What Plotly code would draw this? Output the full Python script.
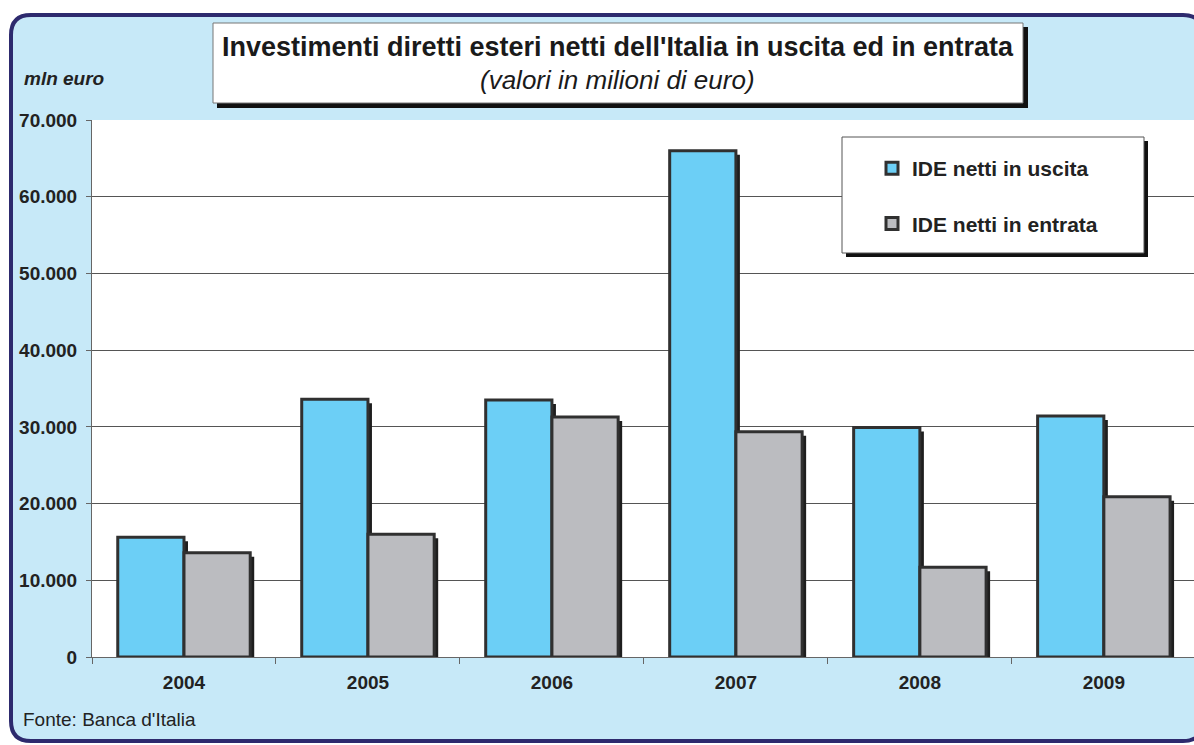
import plotly.graph_objects as go

# ---------------- data ----------------
years = ["2004", "2005", "2006", "2007", "2008", "2009"]
ide_uscita = [15600, 33600, 33500, 66000, 29900, 31400]
ide_entrata = [13600, 16000, 31300, 29350, 11700, 20900]
name_uscita = "IDE netti in uscita"
name_entrata = "IDE netti in entrata"
y_tickvals = [0, 10000, 20000, 30000, 40000, 50000, 60000, 70000]
y_ticktext = ["0", "10.000", "20.000", "30.000", "40.000", "50.000", "60.000", "70.000"]
title_main = "Investimenti diretti esteri netti dell'Italia in uscita ed in entrata"
title_sub = "(valori in milioni di euro)"
unit_label = "mln euro"
source_label = "Fonte: Banca d'Italia"

# ---------------- geometry / style ----------------
W, H = 1194, 745
L, R, T, B = 92, 0, 120, 88
PW, PH = W - L - R, H - T - B
FONT = "Liberation Sans, Arial, sans-serif"
BLUE = "#6CCFF6"
GREY = "#BBBCC0"
EDGE = "#303030"
SHADOW = "#1E1E1E"
BG = "#C7E9F8"
NAVY = "#2D2A6E"

def px(x):
    return (x - L) / PW

def py(y):
    return (H - B - y) / PH

X_RANGE = [-0.5, 5.49]
cat_px = PW / (X_RANGE[1] - X_RANGE[0])
Y_RANGE = [0, 70000]
val_px = (Y_RANGE[1] - Y_RANGE[0]) / PH
SH = 4  # shadow offset in pixels
dx = SH / cat_px
dy = SH * val_px

fig = go.Figure()

# shadows (base axes, hidden)
for vals in (ide_uscita, ide_entrata):
    fig.add_trace(go.Bar(x=years, y=vals, xaxis="x", yaxis="y",
                         marker=dict(color=SHADOW, line=dict(width=0)),
                         showlegend=False, hoverinfo="skip"))

# main bars (overlay axes, visible)
fig.add_trace(go.Bar(x=years, y=ide_uscita, name=name_uscita, xaxis="x2", yaxis="y2",
                     legendgroup="a",
                     marker=dict(color=BLUE, line=dict(color=EDGE, width=3))))
fig.add_trace(go.Bar(x=years, y=ide_entrata, name=name_entrata, xaxis="x2", yaxis="y2",
                     legendgroup="b",
                     marker=dict(color=GREY, line=dict(color=EDGE, width=3))))

def rounded_path(x0, y0, x1, y1, r):
    def P(x, y):
        return f"{px(x):.5f},{py(y):.5f}"
    return (f"M {P(x0 + r, y0)} L {P(x1 - r, y0)} Q {P(x1, y0)} {P(x1, y0 + r)} "
            f"L {P(x1, y1 - r)} Q {P(x1, y1)} {P(x1 - r, y1)} "
            f"L {P(x0 + r, y1)} Q {P(x0, y1)} {P(x0, y1 - r)} "
            f"L {P(x0, y0 + r)} Q {P(x0, y0)} {P(x0 + r, y0)} Z")

def rect(x0, y0, x1, y1, fill, line_color=None, lw=0, layer="below"):
    return dict(type="rect", xref="paper", yref="paper", layer=layer,
                x0=px(x0), x1=px(x1), y0=py(y1), y1=py(y0),
                fillcolor=fill,
                line=dict(color=line_color or fill, width=lw))

shapes = [
    dict(type="path", xref="paper", yref="paper", layer="below",
         path=rounded_path(11, 15, 1203, 741, 20),
         fillcolor=BG, line=dict(color=NAVY, width=4)),
    dict(type="rect", xref="paper", yref="paper", layer="below",
         x0=0, x1=1, y0=0, y1=1, fillcolor="white", line=dict(width=0)),
    rect(217, 27, 1028, 108, "#111111"),
    rect(213, 23, 1023, 103, "white", "#777777", 1),
    rect(846, 141, 1148, 257, "#111111", layer="above"),
    rect(842, 137, 1144, 253, "white", "#555555", 1, layer="above"),
]

annotations = [
    dict(xref="paper", yref="paper", x=px(618), y=py(47), text=f"<b>{title_main}</b>",
         showarrow=False, xanchor="center", yanchor="middle",
         font=dict(family=FONT, size=27, color="#1a1a1a")),
    dict(xref="paper", yref="paper", x=px(617), y=py(80), text=f"<i>{title_sub}</i>",
         showarrow=False, xanchor="center", yanchor="middle",
         font=dict(family=FONT, size=26, color="#1a1a1a")),
    dict(xref="paper", yref="paper", x=px(22), y=py(79), text=f"<b><i>{unit_label}</i></b>",
         showarrow=False, xanchor="left", yanchor="middle",
         font=dict(family=FONT, size=19, color="#222222")),
    dict(xref="paper", yref="paper", x=px(21), y=py(719), text=source_label,
         showarrow=False, xanchor="left", yanchor="middle",
         font=dict(family=FONT, size=19, color="#222222")),
]

fig.update_layout(
    width=W, height=H,
    margin=dict(l=L, r=R, t=T, b=B, pad=0),
    paper_bgcolor="white", plot_bgcolor="white",
    barmode="group", bargap=0.28, bargroupgap=0,
    font=dict(family=FONT, color="#222222"),
    showlegend=True,
    legend=dict(x=px(872), y=py(148), xanchor="left", yanchor="top",
                bgcolor="rgba(0,0,0,0)", borderwidth=0,
                font=dict(family=FONT, size=21, color="#222222", weight="bold"),
                tracegroupgap=25, traceorder="grouped"),
    xaxis=dict(type="category", range=[X_RANGE[0] - dx, X_RANGE[1] - dx],
               visible=False, fixedrange=True, anchor="y"),
    yaxis=dict(range=[Y_RANGE[0] + dy, Y_RANGE[1] + dy], visible=False,
               fixedrange=True, anchor="x"),
    xaxis2=dict(type="category", overlaying="x", anchor="y2", side="bottom",
                range=X_RANGE, showline=True, linecolor="#666666", linewidth=1,
                ticks="outside", tickson="boundaries", ticklen=6, tickcolor="#666666",
                tickfont=dict(family=FONT, size=19, color="#222222", weight="bold"),
                ticklabelstandoff=8, showgrid=False, fixedrange=True),
    yaxis2=dict(overlaying="y", anchor="x2", side="left", range=Y_RANGE,
                tickvals=y_tickvals, ticktext=y_ticktext,
                showgrid=True, gridcolor="#555555", gridwidth=1,
                showline=True, linecolor="#666666", linewidth=1,
                ticks="outside", ticklen=5, tickcolor="#666666",
                tickfont=dict(family=FONT, size=19, color="#222222", weight="bold"),
                ticklabelstandoff=5, zeroline=False, fixedrange=True),
    shapes=shapes,
    annotations=annotations,
)

fig.write_html("out.html")
